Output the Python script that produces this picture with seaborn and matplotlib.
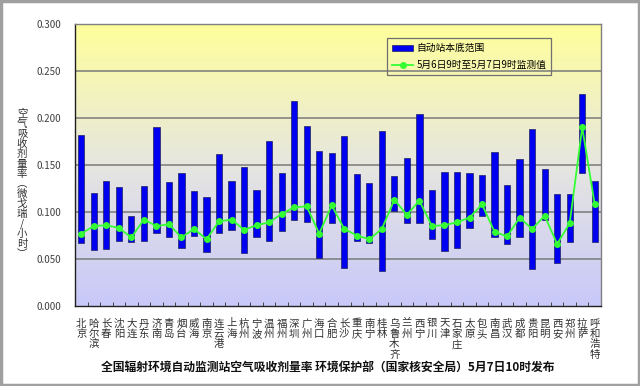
import matplotlib
matplotlib.use("Agg")
import matplotlib.pyplot as plt
from matplotlib.colors import LinearSegmentedColormap
from matplotlib.patches import Rectangle, Patch
from matplotlib.lines import Line2D
import seaborn as sns
import numpy as np

# stations
cities = ['北京', '哈尔滨', '长春', '沈阳', '大连', '丹东', '济南', '青岛', '烟台', '威海',
          '南京', '连云港', '上海', '杭州', '宁波', '温州', '福州', '深圳', '广州', '海口',
          '合肥', '长沙', '重庆', '南宁', '桂林', '乌鲁木齐', '兰州', '西宁', '银川', '天津',
          '石家庄', '太原', '包头', '南昌', '武汉', '成都', '贵阳', '昆明', '西安', '郑州',
          '拉萨', '呼和浩特']
# background range (min / max)
range_low = [0.067, 0.060, 0.061, 0.069, 0.068, 0.069, 0.078, 0.073, 0.062, 0.075,
             0.057, 0.078, 0.081, 0.056, 0.073, 0.069, 0.080, 0.092, 0.089, 0.051,
             0.088, 0.040, 0.069, 0.067, 0.037, 0.101, 0.088, 0.088, 0.071, 0.058,
             0.062, 0.083, 0.096, 0.073, 0.066, 0.073, 0.039, 0.091, 0.046, 0.068,
             0.142, 0.068]
range_high = [0.182, 0.120, 0.133, 0.127, 0.096, 0.128, 0.190, 0.132, 0.142, 0.122,
              0.116, 0.162, 0.133, 0.148, 0.123, 0.176, 0.142, 0.218, 0.191, 0.165,
              0.163, 0.181, 0.140, 0.131, 0.186, 0.138, 0.157, 0.204, 0.123, 0.143,
              0.143, 0.142, 0.139, 0.164, 0.129, 0.156, 0.188, 0.146, 0.119, 0.119,
              0.226, 0.133]
# measured 5/6 9h - 5/7 9h
measured = [0.077, 0.085, 0.086, 0.083, 0.073, 0.092, 0.085, 0.087, 0.073, 0.082,
            0.071, 0.090, 0.092, 0.081, 0.086, 0.089, 0.098, 0.105, 0.106, 0.077,
            0.107, 0.082, 0.075, 0.071, 0.082, 0.113, 0.097, 0.112, 0.085, 0.086,
            0.089, 0.094, 0.108, 0.079, 0.074, 0.094, 0.082, 0.096, 0.066, 0.088,
            0.190, 0.108]
yticks = [0.0, 0.05, 0.1, 0.15, 0.2, 0.25, 0.3]

cjk = ['Noto Sans CJK SC', 'DejaVu Sans']
plt.rcParams['font.family'] = cjk

fig = plt.figure(figsize=(6.4, 3.86), dpi=100)
ax = fig.add_axes([75 / 640, 1 - 306 / 386, 526 / 640, 282 / 386])

# gradient background: lavender (bottom) -> yellow (top)
cmap = LinearSegmentedColormap.from_list('bg', ['#c8c8fa', '#e6e6e0', '#ffff9c'])
grad = np.linspace(0, 1, 256).reshape(-1, 1)
ax.imshow(grad, cmap=cmap, aspect='auto', origin='lower',
          extent=[-0.5, len(cities) - 0.5, 0, 0.3], zorder=0)

lo = np.array(range_low)
hi = np.array(range_high)
sns.barplot(x=cities, y=hi - lo, bottom=lo, color='#0000f0', saturation=1,
            width=0.5, edgecolor='#202060', linewidth=0.5, ax=ax, zorder=3)
sns.pointplot(x=cities, y=measured, color='#33ff33', markers='o', markersize=4,
              linewidth=1.3, ax=ax, zorder=4)

for v in yticks[1:-1]:
    ax.axhline(v, color='#7a7a7a', lw=1.1, zorder=1)

ax.set_xlim(-0.5, len(cities) - 0.5)
ax.set_ylim(0, 0.3)
ax.set_yticks(yticks)
ax.set_yticklabels(['%.3f' % t for t in yticks], fontsize=7, color='#404040')
ax.tick_params(axis='y', length=0, pad=10)
ax.set_xticks(np.arange(len(cities)))
ax.set_xticklabels(['\n'.join(c) for c in cities], fontsize=7.5, color='#303030',
                   va='top', linespacing=1.05)
ax.tick_params(axis='x', length=0, pad=9)
# minor ticks between categories
ax.set_xticks(np.arange(-0.5, len(cities), 1), minor=True)
ax.tick_params(axis='x', which='minor', length=3, direction='in', color='#303030')
ax.set_xlabel('')
ax.set_ylabel('')
for s in ['top', 'right']:
    ax.spines[s].set_color('#808080')
for s in ['left', 'bottom']:
    ax.spines[s].set_color('#202020')
for s in ax.spines.values():
    s.set_linewidth(1.0)

# y label stacked characters (vertical-form brackets)
fig.text(22 / 640, 1 - 184 / 386, '\n'.join('空气吸收剂量率︵微戈瑞/小时︶'),
         fontsize=7.5, ha='center', va='center', linespacing=1.0, color='#303030')

# legend
handles = [Patch(facecolor='#0000f0', edgecolor='#202060', lw=0.5),
           Line2D([], [], color='#33ff33', lw=1.3, marker='o', markersize=4)]
labels = ['自动站本底范围', '5月6日9时至5月7日9时监测值']
leg = ax.legend(handles, labels, loc='upper left', bbox_to_anchor=(0.584, 0.966),
                fontsize=7, frameon=True, fancybox=False,
                facecolor='none', edgecolor='#707070', handlelength=2.2, handleheight=0.6,
                borderpad=0.5, labelspacing=0.7, handletextpad=0.3)
leg.get_frame().set_linewidth(0.9)
leg.get_frame().set_alpha(None)
leg.set_zorder(6)

fig.text(328 / 640, 1 - 367 / 386,
         '全国辐射环境自动监测站空气吸收剂量率 环境保护部（国家核安全局）5月7日10时发布',
         fontsize=8.5, fontweight='bold', ha='center', va='center', color='#101010')

# outer grey frame
fig.patches.append(Rectangle((0.002, 0.003), 0.996, 0.994, transform=fig.transFigure,
                             fill=False, edgecolor='#a0a0a0', lw=2.5))

fig.savefig('out.png', dpi=100)
